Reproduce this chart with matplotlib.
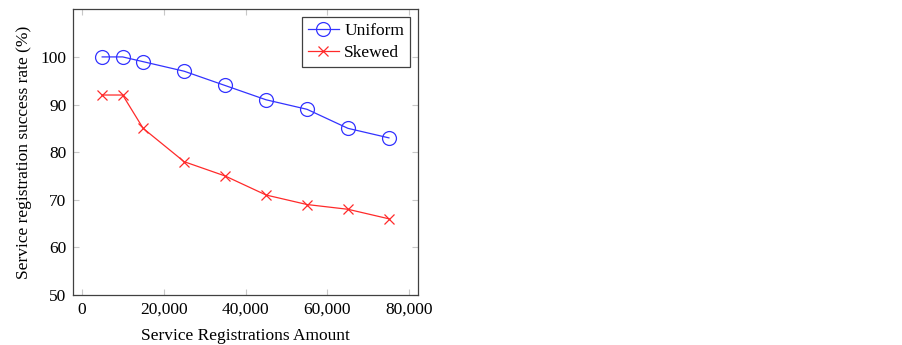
import matplotlib
matplotlib.use("Agg")
import matplotlib.pyplot as plt

amounts = [5000, 10000, 15000, 25000, 35000, 45000, 55000, 65000, 75000]
uniform = [100, 100, 99, 97, 94, 91, 89, 85, 83]
skewed = [92, 92, 85, 78, 75, 71, 69, 68, 66]
xticks = [0, 20000, 40000, 60000, 80000]
xtick_labels = ["0", "20,000", "40,000", "60,000", "80,000"]
yticks = [50, 60, 70, 80, 90, 100]

plt.rcParams['font.family'] = ['Liberation Serif', 'DejaVu Serif']
plt.rcParams['mathtext.fontset'] = 'stix'

fig = plt.figure(figsize=(9.03, 3.45), dpi=100)
ax = fig.add_axes([73.3/903, 1 - 295/345, (418 - 73.3)/903, (295 - 9.3)/345])

ax.plot(amounts, uniform, color='#3333ff', lw=0.9, marker='o', markersize=10,
        markerfacecolor='none', markeredgecolor='#3333ff', markeredgewidth=0.9, label='Uniform')
ax.plot(amounts, skewed, color='#ff2a2a', lw=0.9, marker='x', markersize=7,
        markeredgewidth=0.9, label='Skewed')

ax.set_xlim(-2050, 82100)
ax.set_ylim(50, 110)
ax.set_xticks(xticks)
ax.set_xticklabels(xtick_labels)
ax.set_yticks(yticks)
ax.tick_params(direction='in', length=4, color='#c8c8c8', labelsize=12.5,
               top=True, right=True, pad=5)
for s in ax.spines.values():
    s.set_color('#404040')
    s.set_linewidth(0.9)

ax.set_xlabel('Service Registrations Amount', fontsize=12.5, labelpad=7)
ax.set_ylabel('Service registration success rate (%)', fontsize=12.5, labelpad=6)

leg = ax.legend(loc='upper right', fontsize=12.5, frameon=True, fancybox=False,
                edgecolor='#404040', framealpha=1, borderpad=0.35, handlelength=1.8,
                handletextpad=0.3, labelspacing=0.3, borderaxespad=0.45)
leg.get_frame().set_linewidth(0.9)

fig.savefig('out.png', dpi=100)
